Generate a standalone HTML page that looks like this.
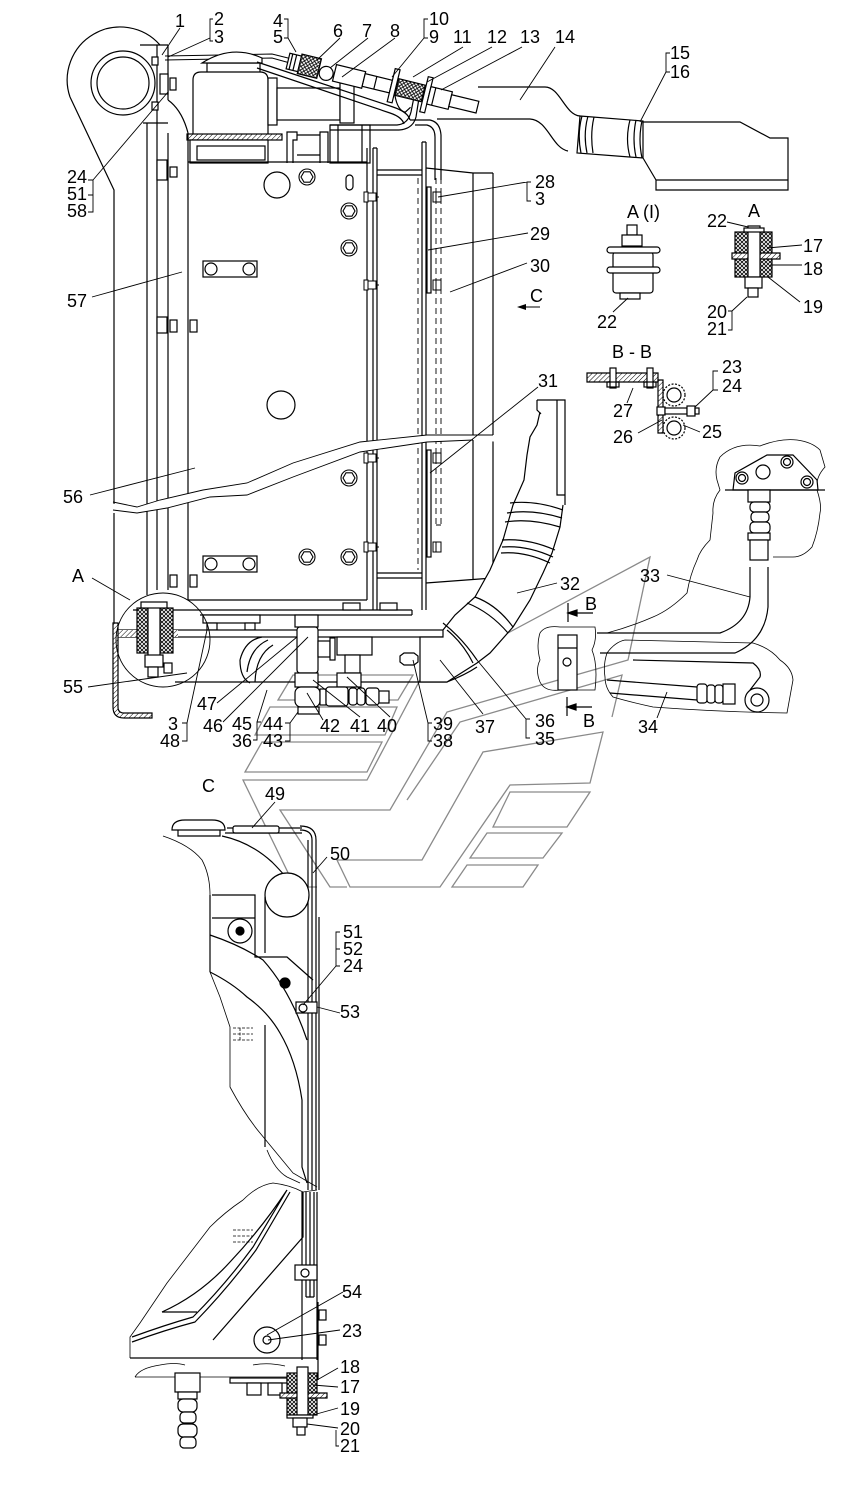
<!DOCTYPE html>
<html><head><meta charset="utf-8">
<style>
html,body{margin:0;padding:0;background:#fff;}
svg{display:block;}
text{font-family:"Liberation Sans",Arial,sans-serif;font-size:18px;fill:#000;}
</style></head><body>
<svg width="854" height="1500" viewBox="0 0 854 1500" xmlns="http://www.w3.org/2000/svg">
<defs>
<pattern id="ht" width="3.5" height="3.5" patternUnits="userSpaceOnUse" patternTransform="rotate(45)"><rect width="3.5" height="3.5" fill="#fff"/><line x1="0" y1="0" x2="0" y2="3.5" stroke="#000" stroke-width="1"/></pattern>
<pattern id="xh" width="4" height="4" patternUnits="userSpaceOnUse"><rect width="4" height="4" fill="#fff"/><path d="M0,0 L4,4 M4,0 L0,4" stroke="#000" stroke-width="0.8"/></pattern>
<g id="hb" fill="#fff" stroke="#000" stroke-width="1.1"><circle r="8"/><polygon points="6,0 3,5.2 -3,5.2 -6,0 -3,-5.2 3,-5.2"/></g>
<g id="sn" fill="#fff" stroke="#000" stroke-width="1"><rect x="-4" y="-5" width="8" height="10"/><line x1="-1" y1="-5" x2="-1" y2="5"/></g>
<g id="sb" fill="#fff" stroke="#000" stroke-width="1"><rect x="-2" y="-5" width="4" height="10"/><rect x="2" y="-4" width="8" height="8"/><line x1="10" y1="0" x2="13" y2="0"/></g>
</defs>

<!-- ============ GREY C-ARROW SHAPES ============ -->
<g fill="none" stroke="#8a8a8a" stroke-width="1.3">
<polygon points="293,675 413,675 398,700 278,700"/>
<polygon points="270,707 397,707 385,735 255,735"/>
<polygon points="262,742 382,742 367,772 245,772"/>
<polyline points="317,887 295,887 243,780 367,780 420,680 650,557 628,660 447,712 390,810 280,810 330,887 347,887"/>
<polyline points="407,800 460,722 622,675 612,717"/>
<polygon points="337,860 422,860 483,752 603,732 590,783 510,785 440,887 350,887"/>
<polygon points="493,827 510,792 590,792 567,827"/>
<polygon points="470,858 487,833 562,833 543,858"/>
<polygon points="452,887 467,865 538,865 523,887"/>
</g>

<g fill="none" stroke="#000" stroke-width="1.2">
<!-- ============ TOP-LEFT BRACKET ============ -->
<path d="M70,97 A53,53 0 0 1 160,45"/>
<path d="M70,97 L114,190 L114,505"/>
<path d="M114,513 L114,623"/>
<circle cx="123" cy="83" r="32"/>
<circle cx="123" cy="83" r="26"/>
<path d="M140,45 L168,45"/>
<path d="M157,45 L157,590 M168,45 L168,100 M168,133 L168,590 M147,123 L147,595"/>
<path d="M143,123 L168,123"/>
<path d="M168,100 Q182,110 188,133"/>
<rect x="152" y="57" width="6" height="8" fill="#fff"/>
<rect x="152" y="102" width="6" height="8" fill="#fff"/>
<rect x="160" y="74" width="8" height="20" fill="#fff"/>
<rect x="170" y="78" width="6" height="12" fill="#fff"/>
<rect x="157" y="160" width="10" height="20" fill="#fff"/>
<rect x="170" y="167" width="7" height="10" fill="#fff"/>
<rect x="157" y="317" width="10" height="16" fill="#fff"/>
<rect x="170" y="320" width="7" height="12" fill="#fff"/>
<rect x="190" y="320" width="7" height="12" fill="#fff"/>
<rect x="170" y="575" width="7" height="12" fill="#fff"/>
<rect x="190" y="575" width="7" height="12" fill="#fff"/>

<!-- thin pipe 2-3 -->
<path d="M165,56 L272,54 L292,59 M165,60 L272,58 L290,63" stroke-width="1"/>

<!-- ============ TANK ============ -->
<path d="M193,137 L193,80 Q193,72 201,72 L260,72 Q268,72 268,80 L268,137" fill="#fff"/>
<path d="M207,72 L207,63 L260,63 L260,72"/>
<path d="M202,63 Q232,44 262,58 L262,63 Z" fill="#fff"/>
<rect x="187" y="134" width="95" height="6" fill="url(#ht)"/>
<rect x="190" y="140" width="78" height="23" fill="#fff"/>
<rect x="197" y="146" width="68" height="14"/>
<rect x="268" y="78" width="9" height="47" fill="#fff"/>
<rect x="277" y="88" width="63" height="32" fill="#fff"/>
<rect x="340" y="83" width="14" height="40" fill="#fff"/>
<!-- brackets under -->
<path d="M287,163 L287,132 L297,132 L297,140 L293,140 L293,163 M320,163 L320,132 L328,132 L328,163 M297,135 L320,135 M297,155 L320,155"/>
<rect x="330" y="125" width="40" height="38" fill="#fff"/>
<path d="M338,125 L338,163 M362,125 L362,163"/>
<!-- bent pipes -->
<path d="M257,62 L393,107 Q408,112 410,120 M257,68 L390,113 Q402,117 404,124"/>
<path d="M330,125 L397,125 Q408,124 411,112 L414,97 M330,130 L399,130 Q413,129 416,117 L419,98"/>
<path d="M410,120 L430,120 Q440,122 441,135 L441,180 M415,125 L427,125 Q435,127 435,137 L435,180"/>

<!-- ============ DIAGONAL TUBE ASSEMBLY ============ -->
<g transform="translate(288,61) rotate(13.7)">
<rect x="0" y="-8" width="12" height="16" fill="#fff"/>
<path d="M3,-8 L3,8 M7,-8 L7,8"/>
<rect x="12" y="-10" width="20" height="20" fill="url(#xh)"/>
<circle cx="40" cy="3" r="7" fill="#fff"/>
<rect x="48" y="-8" width="30" height="17" fill="#fff"/>
<rect x="78" y="-6" width="28" height="13" fill="#fff"/>
<path d="M90,-6 L90,7"/>
<rect x="106" y="-18" width="5" height="34" fill="#fff"/>
<rect x="112" y="-9" width="27" height="17" fill="url(#xh)"/>
<path d="M112,8 Q118,22 126,22 L130,16"/>
<rect x="140" y="-18" width="5" height="36" fill="#fff"/>
<rect x="145" y="-9" width="22" height="18" fill="#fff"/>
<path d="M150,-9 L150,9"/>
<rect x="167" y="-6" width="28" height="12" fill="#fff"/>
</g>

<!-- ============ PIPE 14 / DUCT ============ -->
<path d="M478,87 L545,87 C560,87 565,115 580,116"/>
<path d="M437,119 L530,119 C548,120 552,148 568,151"/>
<path d="M580,116 L643,121 L643,158 L577,153 Z" fill="#fff"/>
<path d="M582,116 Q577,134 581,153 M588,116 Q583,134 587,153 M594,117 Q590,134 593,153"/>
<path d="M630,120 Q625,139 630,157 M636,120 Q632,139 636,157 M642,121 Q638,139 642,158"/>
<path d="M643,122 L740,122 L770,138 L788,138 L788,190 L656,190 L656,180 L788,180 M643,158 L656,180"/>

<!-- ============ RADIATOR BODY ============ -->
<path d="M188,133 L188,600 M188,162 L367,162 M367,148 L367,600 M188,600 L367,600"/>
<path d="M373,148 L373,610 M377,148 L377,610 M373,148 L377,148"/>
<path d="M422,142 L422,610 M426,142 L426,610 M422,142 L426,142"/>
<path d="M377,170 L422,170 M377,175 L422,175 M377,573 L422,573 M377,578 L422,578"/>
<path d="M418,178 L418,570 M436,178 L436,525 M441,178 L441,525 M436,525 L441,525" stroke-width="0.9" stroke-dasharray="6,4"/>
<rect x="427" y="187" width="4" height="106" fill="#fff"/>
<rect x="427" y="450" width="4" height="107" fill="#fff"/>
<path d="M426,168 L473,173 L493,173 M473,173 L473,580 M493,173 L493,578 M426,583 L493,578"/>
<circle cx="277" cy="185" r="13"/>
<circle cx="281" cy="405" r="14"/>
<rect x="346" y="175" width="7" height="15" rx="3.5"/>
<use href="#hb" x="307" y="177"/>
<use href="#hb" x="349" y="211"/>
<use href="#hb" x="349" y="248"/>
<use href="#hb" x="349" y="478"/>
<use href="#hb" x="307" y="557"/>
<use href="#hb" x="349" y="557"/>
<rect x="203" y="261" width="54" height="16" fill="#fff"/>
<circle cx="211" cy="269" r="6"/><circle cx="249" cy="269" r="6"/>
<rect x="203" y="556" width="54" height="16" fill="#fff"/>
<circle cx="211" cy="564" r="6"/><circle cx="249" cy="564" r="6"/>
<use href="#sb" x="366" y="197"/><use href="#sb" x="366" y="285"/><use href="#sb" x="366" y="458"/><use href="#sb" x="366" y="547"/>
<use href="#sn" x="437" y="197"/><use href="#sn" x="437" y="285"/><use href="#sn" x="437" y="458"/><use href="#sn" x="437" y="547"/>

<!-- break line -->
<path d="M100,502 L137,507 L160,500 L203,490 L247,483 L293,463 L360,442 L427,435 L500,435 L500,442 L473,440 L427,442 L360,452 L293,477 L247,495 L210,497 L167,508 L137,513 L100,510 Z" fill="#fff" stroke="none"/>
<path d="M113,502 L137,507 L160,500 L203,490 L247,483 L293,463 L360,442 L427,435 L493,435" stroke-width="0.9"/>
<path d="M113,510 L137,513 L167,508 L210,497 L247,495 L293,477 L360,452 L427,442 L473,440" stroke-width="0.9"/>

<!-- ============ BOTTOM PLATES / MOUNT A ============ -->
<path d="M133,610 L412,610 M200,615 L412,615 M412,610 L412,615"/>
<rect x="203" y="615" width="57" height="8" fill="#fff"/>
<rect x="207" y="623" width="10" height="7" fill="#fff"/><rect x="245" y="623" width="10" height="7" fill="#fff"/>
<rect x="343" y="603" width="17" height="7" fill="#fff"/><rect x="380" y="603" width="17" height="7" fill="#fff"/>
<rect x="115" y="630" width="350" height="7" fill="#fff"/>
<rect x="118" y="630" width="60" height="7" fill="url(#ht)" stroke="none"/>
<path d="M175,682 L447,682 Q465,675 477,667"/>
<!-- hose behind -->
<path d="M240,660 Q245,640 262,637 M247,672 Q250,648 268,640 M255,682 Q256,655 273,645 M240,660 Q240,678 250,683"/>
<!-- L bracket 55 -->
<path d="M113,623 L113,707 Q113,718 124,718 L152,718 L152,713 L124,713 Q118,713 118,707 L118,623 Z" fill="url(#ht)"/>
<!-- detail circle A -->
<circle cx="163" cy="640" r="47" stroke-width="0.9" fill="none"/>
<rect x="137" y="608" width="11" height="45" fill="url(#xh)"/>
<rect x="160" y="608" width="13" height="45" fill="url(#xh)"/>
<rect x="148" y="604" width="12" height="53" fill="#fff"/>
<rect x="141" y="602" width="26" height="6" fill="#fff"/>
<rect x="145" y="655" width="18" height="12" fill="#fff"/>
<rect x="148" y="667" width="10" height="10" fill="#fff"/>
<rect x="164" y="663" width="8" height="10" fill="#fff"/>
<!-- fittings -->
<rect x="295" y="615" width="23" height="12" fill="#fff"/>
<rect x="297" y="627" width="21" height="46" rx="3" fill="#fff"/>
<rect x="318" y="641" width="12" height="16" fill="#fff"/>
<rect x="330" y="638" width="5" height="22" fill="#fff"/>
<rect x="337" y="637" width="35" height="18" fill="#fff"/>
<rect x="345" y="655" width="15" height="18" fill="#fff"/>
<rect x="337" y="673" width="24" height="14" fill="#fff"/>
<rect x="295" y="673" width="23" height="14" fill="#fff"/>
<rect x="295" y="687" width="25" height="20" rx="6" fill="#fff"/>
<rect x="298" y="707" width="21" height="7" fill="#fff"/>
<rect x="320" y="689" width="6" height="16" fill="#fff"/>
<rect x="326" y="687" width="22" height="19" rx="3" fill="#fff"/>
<rect x="349" y="688" width="8" height="17" rx="3" fill="#fff"/>
<rect x="357" y="688" width="8" height="17" rx="3" fill="#fff"/>
<rect x="366" y="688" width="13" height="17" rx="3" fill="#fff"/>
<rect x="379" y="691" width="10" height="12" fill="#fff"/>
<path d="M400,656 L404,653 L414,653 L418,656 L418,662 L414,665 L404,665 L400,662 Z" fill="#fff"/>

<!-- ============ HOSE 32 / 37 ============ -->
<path d="M540,412 L537,425 L530,437 L527,455 L524,480 L513,505 L503,540 L490,570 L475,597 L455,615 L443,630 L443,637 L420,637 L420,682 L447,682 L477,663 L490,653 L513,627 L530,600 L543,573 L552,553 L560,527 L563,505" fill="#fff"/>
<path d="M537,400 L565,400 L565,505 M537,400 L537,410 L541,414 M557,400 L557,495 L565,495"/>
<path d="M510,503 Q535,500 563,510 M507,513 Q533,509 562,518 M505,522 Q530,518 560,527"/>
<path d="M502,540 Q528,538 555,550 M502,547 Q527,545 553,557 M501,553 Q525,551 550,563"/>
<path d="M475,597 Q497,605 513,627 M467,603 Q490,612 508,633"/>
<path d="M443,623 Q462,638 477,660 M447,630 Q463,643 473,663"/>

<!-- ============ A(I) DETAIL ============ -->
<rect x="627" y="225" width="10" height="10" fill="#fff"/>
<rect x="622" y="235" width="20" height="11" fill="#fff"/>
<rect x="613" y="252" width="40" height="41" rx="3" fill="#fff"/>
<rect x="607" y="247" width="53" height="6" rx="3" fill="#fff"/>
<rect x="607" y="267" width="53" height="6" rx="3" fill="#fff"/>
<rect x="620" y="293" width="20" height="6" fill="#fff"/>

<!-- ============ A DETAIL ============ -->
<rect x="735" y="232" width="37" height="21" fill="url(#xh)"/>
<rect x="735" y="259" width="37" height="18" fill="url(#xh)"/>
<path d="M732,253 L780,253 L780,259 L732,259 Z" fill="url(#ht)"/>
<rect x="748" y="226" width="12" height="51" fill="#fff"/>
<rect x="744" y="228" width="20" height="4" fill="#fff"/>
<rect x="745" y="277" width="17" height="11" fill="#fff"/>
<rect x="748" y="288" width="10" height="9" fill="#fff"/>

<!-- ============ B-B SECTION ============ -->
<path d="M587,373 L658,373 L658,382 L587,382 Z" fill="url(#ht)"/>
<path d="M658,380 L663,380 L663,433 L658,433 Z" fill="url(#ht)"/>
<rect x="610" y="368" width="6" height="20" fill="#fff"/>
<rect x="647" y="368" width="6" height="20" fill="#fff"/>
<rect x="607" y="382" width="12" height="5"/><rect x="644" y="382" width="12" height="5"/>
<circle cx="674" cy="395" r="11" stroke-dasharray="2,1.5"/>
<circle cx="674" cy="395" r="7"/>
<circle cx="674" cy="428" r="11" stroke-dasharray="2,1.5"/>
<circle cx="674" cy="428" r="7"/>
<rect x="657" y="407" width="8" height="8" fill="#fff"/>
<rect x="665" y="408" width="22" height="6" fill="#fff"/>
<rect x="687" y="406" width="8" height="10" fill="#fff"/>
<rect x="695" y="408" width="4" height="6"/>

<!-- ============ RIGHT LOWER (33/34) ============ -->
<g stroke-width="0.8">
<path d="M720,457 Q735,442 760,446 Q780,438 797,440 Q812,442 820,450 L825,467 Q815,478 817,490 Q822,505 820,513 Q818,532 812,547 Q803,557 793,557 L773,557"/>
<path d="M720,457 Q714,468 717,480 L720,490 Q712,500 713,513 L710,540 Q700,550 697,560 Q690,575 687,593 Q670,610 653,617 Q630,627 607,633"/>
<path d="M607,653 Q615,642 625,640 L753,643 Q770,648 780,660 Q792,668 793,680 L787,713 Q720,712 653,707 Q630,702 613,697 Q605,688 605,677 Q603,665 607,653"/>
<path d="M540,633 Q545,625 560,627 L595,627 Q597,640 592,650 Q598,665 595,690 L560,690 Q545,692 540,682 Q535,670 540,660 Q536,645 540,633"/>
</g>
<path d="M733,490 L735,473 L767,455 L793,455 L817,480 L818,490 Z" fill="#fff"/>
<path d="M725,490 L825,490"/>
<circle cx="742" cy="478" r="6"/><circle cx="742" cy="478" r="3.5"/>
<circle cx="787" cy="462" r="6"/><circle cx="787" cy="462" r="3.5"/>
<circle cx="807" cy="482" r="6"/><circle cx="807" cy="482" r="3.5"/>
<circle cx="763" cy="472" r="7"/>
<rect x="748" y="490" width="22" height="12" fill="#fff"/>
<rect x="750" y="502" width="20" height="10" rx="4" fill="#fff"/>
<rect x="751" y="512" width="18" height="10" rx="4" fill="#fff"/>
<rect x="750" y="522" width="20" height="11" rx="4" fill="#fff"/>
<rect x="748" y="533" width="22" height="7" fill="#fff"/>
<rect x="750" y="540" width="18" height="20" fill="#fff"/>
<path d="M750,567 L750,597 Q748,623 720,633 L597,633 M768,567 L768,607 Q765,640 735,653 L600,653"/>
<path d="M633,660 L753,663 Q762,670 760,677 L750,690"/>
<path d="M607,680 L697,687 M610,693 L697,700"/>
<rect x="697" y="684" width="10" height="19" rx="3" fill="#fff"/>
<rect x="707" y="685" width="8" height="18" rx="3" fill="#fff"/>
<rect x="715" y="685" width="8" height="18" rx="3" fill="#fff"/>
<rect x="723" y="684" width="12" height="20" fill="#fff"/>
<circle cx="757" cy="700" r="12" fill="#fff"/>
<circle cx="757" cy="700" r="6"/>
<rect x="558" y="635" width="19" height="55" fill="#fff"/>
<circle cx="567" cy="662" r="4"/>
<path d="M558,648 L577,648"/>
<!-- B markers -->
<path d="M568,603 L568,622 M568,613 L593,613"/>
<path d="M567,697 L567,716 M567,707 L592,707"/>
<path d="M568,613 L577,610 L577,616 Z M567,707 L576,704 L576,710 Z" fill="#000"/>

<!-- ============ VIEW C ============ -->
<path d="M172,830 Q172,820 185,820 L212,820 Q225,820 225,830 Z" fill="#fff"/>
<path d="M178,830 L178,836 L220,836 L220,830"/>
<path d="M227,828 L302,828 M225,833 L302,833"/>
<rect x="233" y="826" width="46" height="7" rx="2" fill="#fff"/>
<path d="M300,826 Q316,826 316,840 L316,1190 M300,830 Q312,830 312,840 L312,1190 M308,840 L308,1190 M319,917 L319,1190"/>
<path d="M163,836 Q190,845 202,860 Q210,875 210,895" stroke-width="0.8"/>
<path d="M222,836 Q250,842 272,862 Q290,880 297,893"/>
<circle cx="287" cy="895" r="22" fill="#fff"/>
<path d="M210,895 L210,972 M212,895 L255,895 L255,957 L287,957 L313,980 M265,897 L265,953 M212,918 L255,918"/>
<circle cx="240" cy="931" r="12"/><circle cx="240" cy="931" r="4" fill="#000"/>
<circle cx="285" cy="983" r="5" fill="#000"/>
<path d="M210,935 Q240,945 263,960 Q290,990 307,1040"/>
<path d="M210,972 Q232,983 247,997 Q268,1012 280,1033 Q296,1060 302,1100 L302,1167 L307,1183"/>
<path d="M210,972 L220,997 L230,1027 L230,1087 Q245,1115 260,1133 L293,1173 L317,1187" stroke-width="0.8"/>
<path d="M265,1025 L265,1147"/>
<rect x="296" y="1002" width="21" height="11" fill="#fff"/>
<circle cx="303" cy="1008" r="4"/>
<path d="M233,1028 L253,1028 M233,1034 L253,1034 M233,1040 L253,1040 M240,1028 L240,1040" stroke-width="0.8" stroke-dasharray="3,1.5"/>
<!-- lower part -->
<path d="M243,1200 Q258,1185 273,1183 Q290,1185 303,1192 L317,1190" stroke-width="0.8"/>
<path d="M267,1150 Q275,1170 287,1177 L300,1183" stroke-width="0.8"/>
<path d="M302,1192 L302,1360 M306,1192 L306,1297 M310,1192 L310,1297 M314,1192 L314,1297 M306,1297 L314,1297 M317,1192 L317,1360"/>
<rect x="295" y="1265" width="22" height="15" fill="#fff"/>
<circle cx="305" cy="1273" r="4"/>
<path d="M318,1302 L318,1380"/>
<rect x="319" y="1310" width="7" height="10" fill="#fff"/>
<rect x="319" y="1335" width="7" height="10" fill="#fff"/>
<path d="M162,1312 Q200,1295 230,1262 Q262,1228 287,1190 M132,1337 Q165,1325 193,1317 Q225,1285 253,1247 L287,1190 M132,1342 Q165,1330 195,1322 Q228,1288 256,1250 L290,1192"/>
<path d="M162,1312 L197,1312"/>
<path d="M213,1340 L303,1237 L303,1192"/>
<path d="M243,1200 Q225,1212 210,1227 L167,1283 L140,1323 L130,1337 L130,1358" stroke-width="0.8"/>
<path d="M130,1358 L317,1358"/>
<path d="M135,1377 L290,1377" stroke-width="0.8"/>
<path d="M135,1377 Q140,1368 160,1365 Q175,1362 185,1365 M253,1365 Q268,1362 285,1366" stroke-width="0.8"/>
<circle cx="267" cy="1340" r="13"/><circle cx="267" cy="1340" r="4"/>
<path d="M233,1230 L253,1230 M233,1236 L253,1236 M233,1242 L253,1242" stroke-width="0.8" stroke-dasharray="3,1.5"/>
<!-- bottom left fitting -->
<rect x="175" y="1373" width="25" height="19" fill="#fff"/>
<rect x="178" y="1392" width="19" height="7" fill="#fff"/>
<rect x="178" y="1399" width="19" height="13" rx="5" fill="#fff"/>
<rect x="180" y="1412" width="16" height="11" rx="4" fill="#fff"/>
<rect x="178" y="1424" width="19" height="13" rx="5" fill="#fff"/>
<rect x="180" y="1437" width="16" height="11" rx="4" fill="#fff"/>
<!-- bottom right mount -->
<rect x="230" y="1378" width="57" height="5" fill="#fff"/>
<rect x="247" y="1383" width="14" height="12" fill="#fff"/><rect x="268" y="1383" width="14" height="12" fill="#fff"/>
<rect x="287" y="1373" width="30" height="42" fill="url(#xh)"/>
<path d="M280,1393 L327,1393 L327,1398 L280,1398 Z" fill="url(#ht)"/>
<rect x="297" y="1367" width="11" height="48" fill="#fff"/>
<rect x="287" y="1415" width="26" height="3" fill="#fff"/>
<rect x="293" y="1418" width="14" height="9" fill="#fff"/>
<rect x="297" y="1427" width="8" height="8" fill="#fff"/>
</g>

<!-- ============ LEADERS ============ -->
<g fill="none" stroke="#000" stroke-width="0.9">
<path d="M180,28 L162,55"/>
<path d="M213,19 L210,19 L210,41 L213,41 M210,38 L168,57"/>
<path d="M284,19 L288,19 L288,38 L284,38 M288,38 L296,52"/>
<path d="M340,38 L317,60"/>
<path d="M368,38 L330,68"/>
<path d="M395,38 L342,77"/>
<path d="M428,19 L424,19 L424,38 L428,38 M424,38 L392,77"/>
<path d="M463,47 L413,77"/>
<path d="M492,47 L427,82"/>
<path d="M522,47 L441,90"/>
<path d="M555,47 L520,100"/>
<path d="M670,53 L666,53 L666,72 L670,72 M666,72 L640,122"/>
<path d="M88,180 L93,180 L93,212 L88,212 M93,195 L88,195 M93,180 L168,92"/>
<path d="M531,182 L527,182 L527,201 L531,201 M527,182 L438,197"/>
<path d="M528,233 L428,250"/>
<path d="M527,263 L450,292"/>
<path d="M520,307 L540,307"/>
<path d="M613,312 L628,298"/>
<path d="M727,222 L748,227"/>
<path d="M802,245 L767,248"/>
<path d="M802,265 L770,265"/>
<path d="M800,302 L768,277"/>
<path d="M728,311 L732,311 L732,330 L728,330 M732,311 L747,297"/>
<path d="M538,387 L430,473"/>
<path d="M718,371 L713,371 L713,390 L718,390 M713,390 L695,407"/>
<path d="M627,403 L633,388"/>
<path d="M638,433 L662,420"/>
<path d="M700,432 L683,425"/>
<path d="M667,575 L750,597"/>
<path d="M557,583 L517,593"/>
<path d="M657,718 L667,692"/>
<path d="M92,297 L182,272"/>
<path d="M90,495 L195,468"/>
<path d="M92,578 L130,600"/>
<path d="M88,687 L187,673"/>
<path d="M217,703 L297,637"/>
<path d="M223,722 L308,637"/>
<path d="M182,723 L187,723 L187,741 L182,741 M187,723 L207,630"/>
<path d="M253,740 L257,740 L257,722 L261,722 M257,722 L267,690"/>
<path d="M285,723 L290,723 L290,741 L285,741 M290,723 L298,712"/>
<path d="M323,720 L307,693"/>
<path d="M360,717 L313,680"/>
<path d="M390,717 L347,677"/>
<path d="M432,723 L428,723 L428,741 L432,741 M428,723 L413,660"/>
<path d="M483,714 L440,660"/>
<path d="M530,719 L526,719 L526,738 L530,738 M526,719 L477,660"/>
<path d="M275,802 L252,828"/>
<path d="M327,857 L313,873"/>
<path d="M340,932 L336,932 L336,966 L340,966 M336,949 L340,949 M336,966 L303,1005"/>
<path d="M340,1013 L317,1007"/>
<path d="M343,1292 L267,1335"/>
<path d="M340,1330 L268,1340"/>
<path d="M338,1368 L317,1380"/>
<path d="M338,1387 L313,1385"/>
<path d="M338,1408 L313,1415"/>
<path d="M338,1428 L307,1424 M336,1430 L336,1446 L339,1446"/>
</g>
<path d="M517,307 L526,304 L526,310 Z" fill="#000"/>

<!-- ============ LABELS ============ -->
<g>
<text x="175" y="27">1</text>
<text x="214" y="25">2</text><text x="214" y="43">3</text>
<text x="273" y="27">4</text><text x="273" y="43">5</text>
<text x="333" y="37">6</text><text x="362" y="37">7</text><text x="390" y="37">8</text>
<text x="429" y="25">10</text><text x="429" y="43">9</text>
<text x="453" y="43">11</text><text x="487" y="43">12</text><text x="520" y="43">13</text><text x="555" y="43">14</text>
<text x="670" y="59">15</text><text x="670" y="78">16</text>
<text x="67" y="183">24</text><text x="67" y="200">51</text><text x="67" y="217">58</text>
<text x="535" y="188">28</text><text x="535" y="205">3</text>
<text x="530" y="240">29</text><text x="530" y="272">30</text><text x="530" y="302">C</text>
<text x="627" y="218">A (I)</text><text x="597" y="328">22</text>
<text x="748" y="217">A</text><text x="707" y="227">22</text>
<text x="803" y="252">17</text><text x="803" y="275">18</text><text x="803" y="313">19</text>
<text x="707" y="318">20</text><text x="707" y="335">21</text>
<text x="612" y="358">B - B</text>
<text x="538" y="387">31</text>
<text x="722" y="373">23</text><text x="722" y="392">24</text>
<text x="613" y="417">27</text><text x="613" y="443">26</text><text x="702" y="438">25</text>
<text x="67" y="307">57</text><text x="63" y="503">56</text>
<text x="640" y="582">33</text><text x="560" y="590">32</text>
<text x="585" y="610">B</text><text x="583" y="727">B</text><text x="638" y="733">34</text>
<text x="72" y="582">A</text><text x="63" y="693">55</text>
<text x="197" y="710">47</text><text x="203" y="732">46</text>
<text x="168" y="730">3</text><text x="160" y="747">48</text>
<text x="232" y="730">45</text><text x="232" y="747">36</text>
<text x="263" y="730">44</text><text x="263" y="747">43</text>
<text x="320" y="732">42</text><text x="350" y="732">41</text><text x="377" y="732">40</text>
<text x="433" y="730">39</text><text x="433" y="747">38</text>
<text x="475" y="733">37</text>
<text x="535" y="727">36</text><text x="535" y="745">35</text>
<text x="202" y="792">C</text><text x="265" y="800">49</text><text x="330" y="860">50</text>
<text x="343" y="938">51</text><text x="343" y="955">52</text><text x="343" y="972">24</text>
<text x="340" y="1018">53</text>
<text x="342" y="1298">54</text><text x="342" y="1337">23</text>
<text x="340" y="1373">18</text><text x="340" y="1393">17</text><text x="340" y="1415">19</text>
<text x="340" y="1435">20</text><text x="340" y="1452">21</text>
</g>
</svg>
</body></html>
